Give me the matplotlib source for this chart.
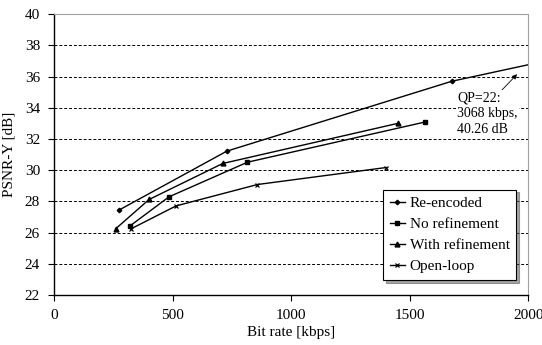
import matplotlib
matplotlib.use("Agg")
import matplotlib.pyplot as plt

# bit rate [kbps] / PSNR-Y [dB]
reenc_x = [274, 729, 1678, 3068]
reenc_y = [27.44, 31.22, 35.70, 40.26]
noref_x = [321, 485, 816, 1563]
noref_y = [26.43, 28.29, 30.51, 33.08]
withref_x = [260, 401, 712, 1450]
withref_y = [26.24, 28.12, 30.43, 33.00]
open_x = [325, 515, 858, 1401]
open_y = [26.24, 27.71, 29.08, 30.17]

xticks = [0, 500, 1000, 1500, 2000]
yticks = [22, 24, 26, 28, 30, 32, 34, 36, 38, 40]

plt.rcParams['font.family'] = ['Liberation Serif', 'DejaVu Serif']

fig = plt.figure(figsize=(5.42, 3.45), dpi=100)
ax = fig.add_axes([0.0996, 0.145, 0.875, 0.814])

for y in yticks[1:-1]:
    ax.axhline(y, color='black', lw=0.7, ls=(0, (3, 2)), zorder=1)

kw = dict(color='black', lw=1.0, zorder=3)
ax.plot(reenc_x, reenc_y, marker='D', ms=2.3, label='Re-encoded', **kw)
ax.plot(noref_x, noref_y, marker='s', ms=3.5, label='No refinement', **kw)
ax.plot(withref_x, withref_y, marker='^', ms=3.5, label='With refinement', **kw)
ax.plot(open_x, open_y, marker='x', ms=3.5, mew=0.9, label='Open-loop', **kw)

ax.set_xlim(0, 2000)
ax.set_ylim(22, 40)
ax.set_xticks(xticks)
ax.set_yticks(yticks)
ax.tick_params(direction='out', length=4, width=0.8, labelsize=11, pad=6)
ax.set_xlabel('Bit rate [kbps]', fontsize=11, labelpad=3)
ax.set_ylabel('PSNR-Y [dB]', fontsize=11, labelpad=7)

for s in ['top', 'right']:
    ax.spines[s].set_color('#a0a0a0')
for s in ['left', 'bottom']:
    ax.spines[s].set_color('black')
    ax.spines[s].set_linewidth(1.0)

ax.annotate('QP=22:\n3068 kbps,\n40.26 dB', xy=(1953, 36.15), xytext=(1700, 35.05),
            fontsize=10, va='top', ha='left', linespacing=1.3, zorder=2,
            bbox=dict(boxstyle='square,pad=0.1', fc='white', ec='none'),
            arrowprops=dict(arrowstyle='-|>', color='black', lw=0.6,
                            mutation_scale=7, shrinkA=0, shrinkB=0,
                            relpos=(0.72, 1.0)))

leg = ax.legend(loc='lower right', bbox_to_anchor=(0.975, 0.053), fontsize=11,
                frameon=True, fancybox=False, shadow=True, handlelength=1.0,
                handletextpad=0.3, borderpad=0.45, labelspacing=0.48,
                borderaxespad=0)
leg.get_frame().set_edgecolor('black')
leg.get_frame().set_linewidth(0.8)

fig.savefig('out.png', dpi=100)
